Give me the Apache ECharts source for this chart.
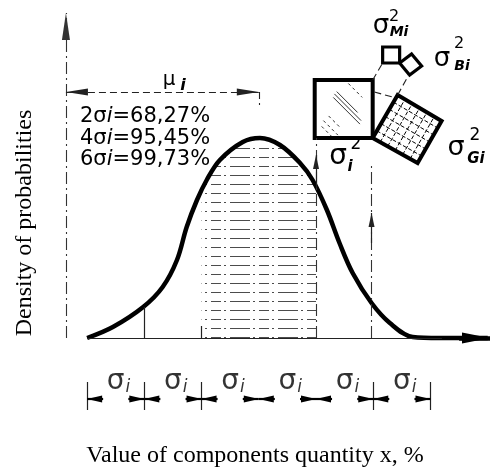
<!DOCTYPE html>
<html>
<head>
<meta charset="utf-8">
<script src="https://cdn.jsdelivr.net/npm/echarts@6/dist/echarts.min.js"></script>
<style>html,body{margin:0;padding:0;background:#fff}#main{width:490px;height:469px}</style>
</head>
<body>
<div id="main"></div>
<script>
// x in units of sigma (0 = mean), y = probability density
var curveX = [-3.0, -2.55, -2.02, -1.68, -1.43, -1.26, -1.08, -0.91, -0.68, -0.28, 0.02, 0.37, 0.72, 0.94, 1.19, 1.41, 1.64, 1.97, 2.29, 2.69, 3.16, 4.0];
var curveY = [0, 0.022, 0.062, 0.102, 0.156, 0.222, 0.276, 0.316, 0.356, 0.392, 0.400, 0.386, 0.350, 0.316, 0.256, 0.190, 0.130, 0.070, 0.030, 0.002, 0, 0];
// hatched band between -sigma and +sigma
var shadeX = [-1.0, -0.91, -0.68, -0.28, 0.02, 0.37, 0.72, 0.94, 1.0];
var shadeY = [0.296, 0.316, 0.356, 0.392, 0.400, 0.386, 0.350, 0.316, 0.302];

// sigma intervals under the axis
var sigmaEdges = [-3, -2, -1, 0, 1, 2, 3];
var tickEdges = [-3, -2, -1, 2, 3];
var sigmaRowY = -0.122;

// guide lines [x1, y1, x2, y2]
var axisY = [-3.37, 0, -3.37, 0.65];
var muLine = [-3.37, 0.492, 0.0, 0.492];
var meanTick = [0.0, 0.492, 0.0, 0.466];
var baseLine = [-3.0, 0, 3.2, 0];
var leftDrop = [-2.0, 0, -2.0, 0.062];
var shadeEdge = [-1.0, 0, -1.0, 0.024];
var sigmaSqLine = [1.0, 0, 1.0, 0.400];
var sigmaSqArrow = [1.0, 0.30, 1.0, 0.366];
var rightLine = [1.97, 0, 1.97, 0.346];
var rightArrow = [1.97, 0.19, 1.97, 0.25];
var axisXArrow = [3.5, 0, 4.04, 0];
var connectors = [[1.99, 0.516, 2.164, 0.550], [2.426, 0.486, 2.62, 0.526], [2.02, 0.492, 2.40, 0.480]];

// variance squares (corner points)
var squareNames = ['σi²', 'σGi²', 'σMi²', 'σBi²'];
var squareCorners = [
  [[0.977, 0.516], [1.990, 0.516], [1.990, 0.400], [0.977, 0.400]],
  [[1.990, 0.400], [2.426, 0.486], [3.194, 0.434], [2.775, 0.350]],
  [[2.164, 0.582], [2.461, 0.582], [2.461, 0.550], [2.164, 0.550]],
  [[2.670, 0.568], [2.845, 0.544], [2.635, 0.526], [2.461, 0.550]]
];

var statLines = ['2σ{it|i}=68,27%', '4σ{it|i}=95,45%', '6σ{it|i}=99,73%'];

function zip(xs, ys) {
  return xs.map(function (x, i) { return [x, ys[i]]; });
}
// arrow heads sit with their tip on the end point
function end(x, y, sym) {
  var o = { coord: [x, y], symbol: sym || 'none' };
  if (sym) o.symbolOffset = [0, '50%'];
  return o;
}
function seg(a, s1, s2) {
  return [end(a[0], a[1], s1), end(a[2], a[3], s2)];
}
function marks(data, lineStyle, size) {
  return {
    silent: true, animation: false, symbolSize: size || [7, 20],
    label: { show: false }, emphasis: { disabled: true },
    lineStyle: Object.assign({ color: '#111', width: 1.2, type: 'solid' }, lineStyle),
    itemStyle: { color: '#000' },
    data: data
  };
}

function makeShadePattern() {
  var c = document.createElement('canvas');
  c.width = 48; c.height = 9;
  var g = c.getContext('2d');
  g.strokeStyle = 'rgba(0,0,0,0.7)';
  g.lineWidth = 1;
  g.setLineDash([10, 3, 2, 4]);
  g.beginPath(); g.moveTo(0, 4.5); g.lineTo(48, 4.5); g.stroke();
  return c;
}

function lerp(a, b, t) { return [a[0] + (b[0] - a[0]) * t, a[1] + (b[1] - a[1]) * t]; }

function renderSquare(params, api) {
  var i = params.dataIndex;
  var p = squareCorners[i].map(function (c) { return api.coord(c); });
  var kids = [];
  if (i === 0) {
    // sparse diagonal hatching: [s - t, t0, t1]
    [[0.02, 0.30, 0.76], [0.10, 0.24, 0.70], [0.18, 0.20, 0.56], [0.52, 0.06, 0.30],
     [-0.55, 0.70, 0.95], [-0.68, 0.80, 0.97], [-0.38, 0.62, 0.82]].forEach(function (h) {
      var a = lerp(lerp(p[0], p[1], h[0] + h[1]), lerp(p[3], p[2], h[0] + h[1]), h[1]);
      var b = lerp(lerp(p[0], p[1], h[0] + h[2]), lerp(p[3], p[2], h[0] + h[2]), h[2]);
      kids.push({ type: 'line', shape: { x1: a[0], y1: a[1], x2: b[0], y2: b[1] },
        style: { stroke: '#333', lineWidth: 1, lineDash: h[0] < -0.3 || h[0] > 0.4 ? [3, 3] : null } });
    });
  }
  if (i === 1) {
    for (var k = 1; k < 6; k++) {
      var t = k / 6;
      var a1 = lerp(p[0], p[3], t), b1 = lerp(p[1], p[2], t);
      var a2 = lerp(p[0], p[1], t), b2 = lerp(p[3], p[2], t);
      kids.push({ type: 'line', shape: { x1: a1[0], y1: a1[1], x2: b1[0], y2: b1[1] }, style: { stroke: '#000', lineWidth: 1, lineDash: [4, 2] } });
      kids.push({ type: 'line', shape: { x1: a2[0], y1: a2[1], x2: b2[0], y2: b2[1] }, style: { stroke: '#000', lineWidth: 1, lineDash: [4, 2] } });
    }
  }
  kids.push({ type: 'polygon', shape: { points: p },
    style: { fill: 'none', stroke: '#000', lineWidth: i < 2 ? 4 : 3.2, lineJoin: 'miter' } });
  return { type: 'group', children: kids };
}

var rowArrows = [];
for (var k = 0; k < sigmaEdges.length - 1; k++) {
  var a = sigmaEdges[k], b = sigmaEdges[k + 1];
  rowArrows.push(seg([a + 0.28, sigmaRowY, a, sigmaRowY], null, 'triangle'));
  rowArrows.push(seg([b - 0.28, sigmaRowY, b, sigmaRowY], null, 'triangle'));
}
var rowTicks = tickEdges.map(function (e) { return seg([e, sigmaRowY + 0.034, e, sigmaRowY - 0.022]); });
var sigmaMids = [];
for (var m = 0; m < sigmaEdges.length - 1; m++) {
  sigmaMids.push([(sigmaEdges[m] + sigmaEdges[m + 1]) / 2 + 0.05, sigmaRowY + 0.034]);
}

var serif = '"Liberation Serif", "DejaVu Serif", serif';
var sans = '"DejaVu Sans", sans-serif';
function txt(x, y, text, font, opt) {
  return Object.assign({ type: 'text', x: x, y: y, silent: true,
    style: { text: text, font: font, fill: '#000', align: 'center', verticalAlign: 'middle' } }, opt || {});
}

var graphics = [
  txt(25, 223, 'Density of probabilities', '24px ' + serif, { rotation: Math.PI / 2 }),
  txt(255, 456, 'Value of components quantity x, %', '24px ' + serif),
  txt(169, 80, 'μ', '20px ' + sans),
  txt(183, 86, 'i', 'italic bold 16px ' + sans),
  // sigma_i^2
  txt(338, 157, 'σ', '28px ' + sans), txt(356, 145, '2', '17px ' + sans), txt(350, 167, 'i', 'italic bold 15px ' + sans),
  // sigma_Mi^2
  txt(381, 26, 'σ', '26px ' + sans), txt(394, 17, '2', '16px ' + sans), txt(399, 32, 'Mi', 'italic bold 14px ' + sans),
  // sigma_Bi^2
  txt(442, 59, 'σ', '26px ' + sans), txt(459, 44, '2', '16px ' + sans), txt(462, 66, 'Bi', 'italic bold 14px ' + sans),
  // sigma_Gi^2
  txt(456, 148, 'σ', '27px ' + sans), txt(475, 136, '2', '17px ' + sans), txt(476, 159, 'Gi', 'italic bold 15px ' + sans)
];
statLines.forEach(function (s, i) {
  graphics.push({ type: 'text', x: 80, y: 117 + i * 21.5, silent: true,
    style: { text: s, font: '21px ' + sans, fill: '#000', align: 'left', verticalAlign: 'middle',
      rich: { it: { fontStyle: 'italic', fontSize: 21, fontFamily: 'DejaVu Sans' } } } });
});

var chart = echarts.init(document.getElementById('main'), null, { renderer: 'canvas' });
chart.setOption({
  animation: false,
  backgroundColor: '#fff',
  grid: { left: 58.5, right: 0, top: 13, bottom: 1 },
  xAxis: { type: 'value', min: -3.5, max: 4.04, show: false },
  yAxis: { type: 'value', min: -0.26, max: 0.65, show: false },
  graphic: graphics,
  series: [
    {
      name: 'shade', type: 'line', data: zip(shadeX, shadeY), smooth: 0.35, symbol: 'none',
      lineStyle: { width: 0, opacity: 0 }, silent: true, z: 1,
      areaStyle: { color: { image: makeShadePattern(), repeat: 'repeat' }, opacity: 1 }
    },
    {
      name: 'guides', type: 'line', data: [], z: 2, clip: false,
      markLine: marks([seg(axisY, null, 'triangle'), seg(sigmaSqLine), seg(rightLine)], { type: [12, 4, 2, 4], width: 1.1, color: '#333' }, [8, 27])
    },
    {
      name: 'dashed', type: 'line', data: [], z: 2, clip: false,
      markLine: marks([seg(muLine, 'triangle', 'triangle'), seg(meanTick)].concat(connectors.map(function (c) { return seg(c); })),
        { type: [7, 4], width: 1.1, color: '#222' }, [7, 22])
    },
    {
      name: 'solid', type: 'line', data: [], z: 2, clip: false,
      markLine: marks([seg(baseLine), seg(leftDrop), seg(shadeEdge), seg(sigmaSqArrow, null, 'triangle'), seg(rightArrow, null, 'triangle')]
        .concat(rowTicks), { width: 1.2, color: '#222' }, [6, 14])
    },
    {
      name: 'sigmaRow', type: 'line', data: [], z: 2, clip: false,
      markLine: marks(rowArrows, { width: 2.2, color: '#000' }, [7, 15])
    },
    {
      name: 'density', type: 'line', data: zip(curveX, curveY), smooth: 0.35, symbol: 'none', z: 3, clip: false,
      lineStyle: { color: '#000', width: 4.5 },
      markLine: marks([seg(axisXArrow, null, 'triangle')], { width: 4.5, color: '#000' }, [11, 28])
    },
    {
      name: 'variances', type: 'custom', renderItem: renderSquare, z: 4, clip: false, silent: true,
      data: squareNames.map(function (n, i) { return { name: n, value: squareCorners[i][0] }; })
    },
    {
      name: 'sigmaLabels', type: 'scatter', data: sigmaMids, symbolSize: 1, silent: true, z: 4,
      itemStyle: { color: 'rgba(0,0,0,0)' },
      label: {
        show: true, position: 'inside', formatter: '{s|σ}{i|i}', color: '#000',
        rich: {
          s: { fontSize: 28, fontFamily: 'DejaVu Sans', color: '#000' },
          i: { fontSize: 17, fontStyle: 'italic', fontFamily: 'DejaVu Sans', color: '#000', padding: [12, 0, 0, 1] }
        }
      }
    }
  ]
});
</script>
</body>
</html>
